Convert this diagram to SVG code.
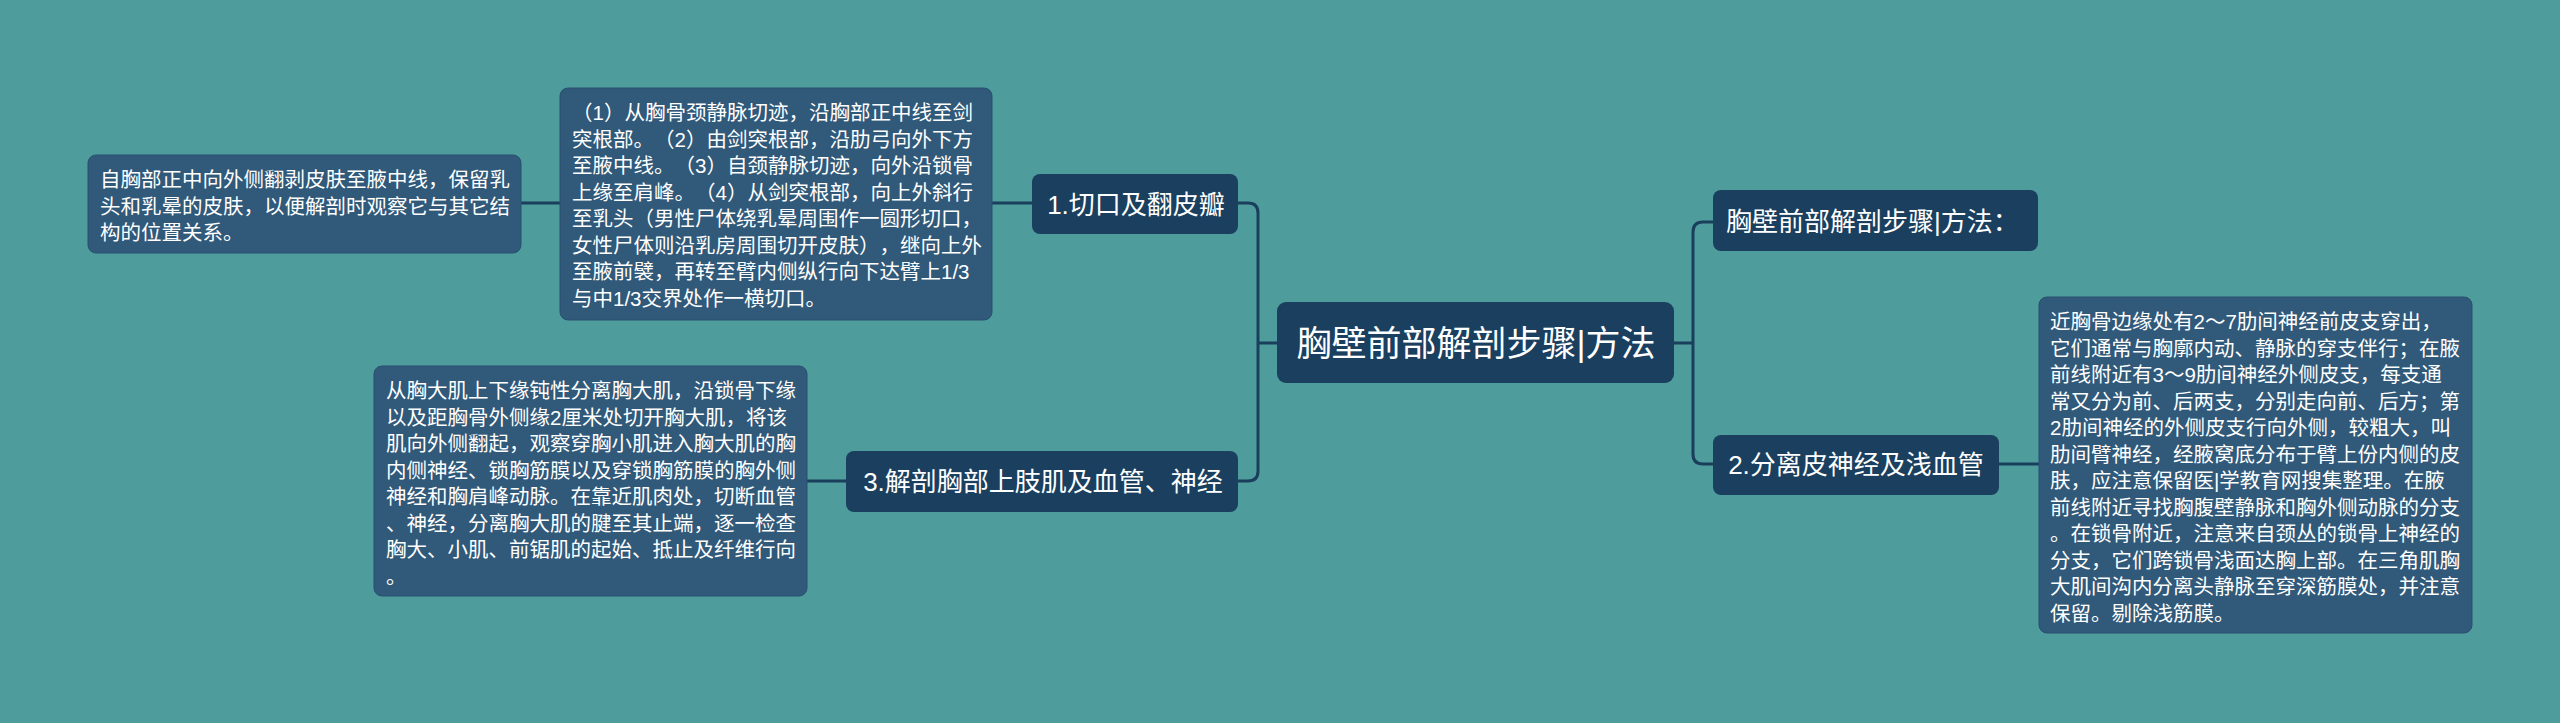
<svg xmlns="http://www.w3.org/2000/svg" width="2560" height="723" viewBox="0 0 2560 723">
<style>
.main{fill:#1a3f5f;}
.detail{fill:#30597a;stroke:#2a5070;stroke-width:1;}
.t{font-family:"Liberation Sans","Noto Sans CJK SC",sans-serif;fill:#ffffff;text-spacing-trim:space-all;}
.mt{font-size:26px;text-anchor:middle;}
.ct{font-size:35px;text-anchor:middle;}
.dt{font-size:20.5px;}
.conn{fill:none;stroke:#1a3f5c;stroke-width:3;}
</style>
<rect x="0" y="0" width="2560" height="723" fill="#4e9c9c"/>
<g id="connectors">
<path class="conn" d="M1277,343 H1258"/>
<path class="conn" d="M1238,203 H1248 Q1258,203 1258,213 V471 Q1258,481 1248,481 H1238"/>
<path class="conn" d="M1674,343 H1693"/>
<path class="conn" d="M1713,222 H1703 Q1693,222 1693,232 V454 Q1693,464 1703,464 H1713"/>
<path class="conn" d="M992,203 H1032"/>
<path class="conn" d="M521,203 H560"/>
<path class="conn" d="M807,481 H846"/>
<path class="conn" d="M1999,464 H2039"/>
</g>
<g id="center">
<rect class="main" x="1277" y="302" width="397" height="81" rx="9"/>
<text class="t ct" x="1476" y="356">胸壁前部解剖步骤|方法</text>
</g>
<g id="n1">
<rect class="main" x="1032" y="174" width="206" height="60" rx="8"/>
<text class="t mt" x="1136" y="214">1.切口及翻皮瓣</text>
</g>
<g id="n3">
<rect class="main" x="846" y="451" width="392" height="61" rx="8"/>
<text class="t mt" x="1043" y="491">3.解剖胸部上肢肌及血管、神经</text>
</g>
<g id="nr1">
<rect class="main" x="1713" y="190" width="325" height="61" rx="8"/>
<text class="t" style="font-size:26px" x="1726" y="231">胸壁前部解剖步骤|方法：</text>
</g>
<g id="n2">
<rect class="main" x="1713" y="435" width="286" height="60" rx="8"/>
<text class="t mt" x="1856" y="474">2.分离皮神经及浅血管</text>
</g>
<g id="d1a">
<rect class="detail" x="88" y="155" width="433" height="98" rx="8"/>
<text class="t dt" x="100" y="187">自胸部正中向外侧翻剥皮肤至腋中线，保留乳</text>
<text class="t dt" x="100" y="213.5">头和乳晕的皮肤，以便解剖时观察它与其它结</text>
<text class="t dt" x="100" y="240">构的位置关系。</text>
</g>
<g id="d1b">
<rect class="detail" x="560" y="88" width="432" height="232" rx="8"/>
<text class="t dt" x="572" y="120">（1）从胸骨颈静脉切迹，沿胸部正中线至剑</text>
<text class="t dt" x="572" y="146.5">突根部。（2）由剑突根部，沿肋弓向外下方</text>
<text class="t dt" x="572" y="173">至腋中线。（3）自颈静脉切迹，向外沿锁骨</text>
<text class="t dt" x="572" y="199.5">上缘至肩峰。（4）从剑突根部，向上外斜行</text>
<text class="t dt" x="572" y="226">至乳头（男性尸体绕乳晕周围作一圆形切口，</text>
<text class="t dt" x="572" y="252.5">女性尸体则沿乳房周围切开皮肤），继向上外</text>
<text class="t dt" x="572" y="279">至腋前襞，再转至臂内侧纵行向下达臂上1/3</text>
<text class="t dt" x="572" y="305.5">与中1/3交界处作一横切口。</text>
</g>
<g id="d3">
<rect class="detail" x="374" y="366" width="433" height="230" rx="8"/>
<text class="t dt" x="386" y="398">从胸大肌上下缘钝性分离胸大肌，沿锁骨下缘</text>
<text class="t dt" x="386" y="424.5">以及距胸骨外侧缘2厘米处切开胸大肌，将该</text>
<text class="t dt" x="386" y="451">肌向外侧翻起，观察穿胸小肌进入胸大肌的胸</text>
<text class="t dt" x="386" y="477.5">内侧神经、锁胸筋膜以及穿锁胸筋膜的胸外侧</text>
<text class="t dt" x="386" y="504">神经和胸肩峰动脉。在靠近肌肉处，切断血管</text>
<text class="t dt" x="386" y="530.5">、神经，分离胸大肌的腱至其止端，逐一检查</text>
<text class="t dt" x="386" y="557">胸大、小肌、前锯肌的起始、抵止及纤维行向</text>
<text class="t dt" x="386" y="583.5">。</text>
</g>
<g id="d2">
<rect class="detail" x="2039" y="297" width="433" height="336" rx="8"/>
<text class="t dt" x="2050" y="329">近胸骨边缘处有2～7肋间神经前皮支穿出，</text>
<text class="t dt" x="2050" y="355.5">它们通常与胸廓内动、静脉的穿支伴行；在腋</text>
<text class="t dt" x="2050" y="382">前线附近有3～9肋间神经外侧皮支，每支通</text>
<text class="t dt" x="2050" y="408.5">常又分为前、后两支，分别走向前、后方；第</text>
<text class="t dt" x="2050" y="435">2肋间神经的外侧皮支行向外侧，较粗大，叫</text>
<text class="t dt" x="2050" y="461.5">肋间臂神经，经腋窝底分布于臂上份内侧的皮</text>
<text class="t dt" x="2050" y="488">肤，应注意保留医|学教育网搜集整理。在腋</text>
<text class="t dt" x="2050" y="514.5">前线附近寻找胸腹壁静脉和胸外侧动脉的分支</text>
<text class="t dt" x="2050" y="541">。在锁骨附近，注意来自颈丛的锁骨上神经的</text>
<text class="t dt" x="2050" y="567.5">分支，它们跨锁骨浅面达胸上部。在三角肌胸</text>
<text class="t dt" x="2050" y="594">大肌间沟内分离头静脉至穿深筋膜处，并注意</text>
<text class="t dt" x="2050" y="620.5">保留。剔除浅筋膜。</text>
</g>
</svg>
